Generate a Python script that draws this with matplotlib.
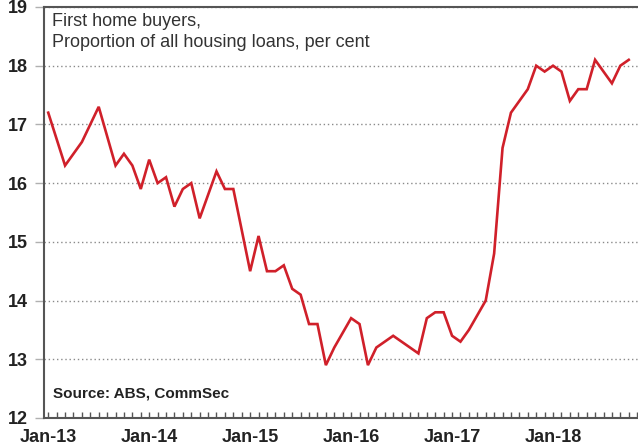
import numpy as np
import pandas as pd
import matplotlib
matplotlib.use('Agg')
import matplotlib.pyplot as plt
from matplotlib.ticker import MultipleLocator

# First home buyers, share of all housing loans (%), monthly Jan-13 .. Oct-18
share = [17.2, 16.75, 16.3, 16.5, 16.7, 17.0, 17.3, 16.8, 16.3, 16.5, 16.3, 15.9,
         16.4, 16.0, 16.1, 15.6, 15.9, 16.0, 15.4, 15.8, 16.2, 15.9, 15.9, 15.2,
         14.5, 15.1, 14.5, 14.5, 14.6, 14.2, 14.1, 13.6, 13.6, 12.9, 13.2, 13.45,
         13.7, 13.6, 12.9, 13.2, 13.3, 13.4, 13.3, 13.2, 13.1, 13.7, 13.8, 13.8,
         13.4, 13.3, 13.5, 13.75, 14.0, 14.8, 16.6, 17.2, 17.4, 17.6, 18.0, 17.9,
         18.0, 17.9, 17.4, 17.6, 17.6, 18.1, 17.9, 17.7, 18.0, 18.1]
dates = pd.date_range('2013-01-01', periods=len(share), freq='MS')
year_labels = ['Jan-13', 'Jan-14', 'Jan-15', 'Jan-16', 'Jan-17', 'Jan-18']
y_ticks = [12, 13, 14, 15, 16, 17, 18, 19]

months = np.arange(len(dates))

fig = plt.figure(figsize=(6.38, 4.45), dpi=100)
ax = fig.add_axes([0.069, 0.0607, 0.931, 0.9236])

ax.plot(months, share, color='#d0202a', lw=1.9, solid_joinstyle='miter')

ax.set_ylim(12, 19)
ax.set_xlim(-0.5, 70.1)
ax.set_yticks(y_ticks)
ax.set_xticks(np.arange(0, 12 * len(year_labels), 12))
ax.set_xticklabels(year_labels)
ax.xaxis.set_minor_locator(MultipleLocator(1))

ax.grid(axis='y', linestyle=(0, (1, 2)), color='#8a8a8a', lw=1.0)
ax.set_axisbelow(True)

for lab in ax.get_xticklabels() + ax.get_yticklabels():
    lab.set_fontweight('bold')
    lab.set_fontfamily('Liberation Sans')
    lab.set_color('#222222')
ax.tick_params(axis='x', which='both', direction='in', length=4, width=1,
               color='#555555', labelsize=13, pad=8)
ax.tick_params(axis='y', which='major', direction='out', length=6.5, width=1,
               color='#b0b0b0', labelsize=13, pad=5)

ax.spines['right'].set_visible(False)
for side in ['left', 'top', 'bottom']:
    ax.spines[side].set_color('#555555')
    ax.spines[side].set_linewidth(1.5)

ax.text(0.013, 0.985, 'First home buyers,\nProportion of all housing loans, per cent',
        transform=ax.transAxes, ha='left', va='top', fontsize=13,
        family='Liberation Sans', color='#333333', linespacing=1.3)
ax.text(0.015, 0.06, 'Source: ABS, CommSec', transform=ax.transAxes,
        ha='left', va='center', fontsize=11, fontweight='bold',
        family='Liberation Sans', color='#222222')

fig.savefig('out.png', dpi=100)
